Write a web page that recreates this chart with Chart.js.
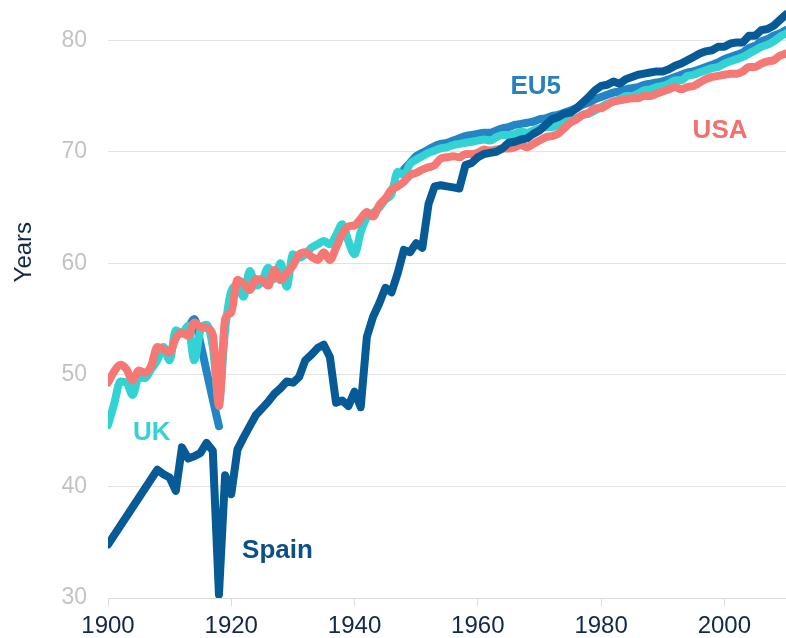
<!DOCTYPE html>
<html>
<head>
<meta charset="utf-8">
<script src="https://cdn.jsdelivr.net/npm/chart.js@4.4.0/dist/chart.umd.min.js"></script>
<style>
  html, body { margin: 0; padding: 0; background: #fff; }
  #wrap { width: 786px; height: 638px; }
</style>
</head>
<body>
<div id="wrap"><canvas id="lifeChart" width="786" height="638"></canvas></div>
<script>
// years on the x axis
const years = [
  1900, 1901, 1902, 1903, 1904, 1905, 1906, 1907, 1908, 1909,
  1910, 1911, 1912, 1913, 1914, 1915, 1916, 1917, 1918, 1919,
  1920, 1921, 1922, 1923, 1924, 1925, 1926, 1927, 1928, 1929,
  1930, 1931, 1932, 1933, 1934, 1935, 1936, 1937, 1938, 1939,
  1940, 1941, 1942, 1943, 1944, 1945, 1946, 1947, 1948, 1949,
  1950, 1951, 1952, 1953, 1954, 1955, 1956, 1957, 1958, 1959,
  1960, 1961, 1962, 1963, 1964, 1965, 1966, 1967, 1968, 1969,
  1970, 1971, 1972, 1973, 1974, 1975, 1976, 1977, 1978, 1979,
  1980, 1981, 1982, 1983, 1984, 1985, 1986, 1987, 1988, 1989,
  1990, 1991, 1992, 1993, 1994, 1995, 1996, 1997, 1998, 1999,
  2000, 2001, 2002, 2003, 2004, 2005, 2006, 2007, 2008, 2009,
  2010
];

// life expectancy at birth, years (null = no data)
const spain = [
  34.8, null, null, null, null, null, null, null, 41.5, 41.1,
  40.8, 39.6, 43.5, 42.5, 42.7, 43.0, 43.9, 43.2, 30.3, 41.0,
  39.3, 43.3, 44.4, 45.4, 46.4, 47.0, 47.6, 48.3, 48.8, 49.4,
  49.3, 49.8, 51.3, 51.8, 52.4, 52.7, 51.6, 47.5, 47.7, 47.2,
  48.5, 47.1, 53.4, 55.2, 56.4, 57.8, 57.4, 59.1, 61.2, 61.0,
  61.8, 61.4, 65.3, 66.9, 67.0, 66.9, 66.8, 66.7, 68.8, 69.0,
  69.5, 69.8, 69.9, 70.0, 70.3, 70.8, 70.9, 71.1, 71.2, 71.6,
  71.9, 72.4, 72.9, 73.1, 73.4, 73.5, 73.9, 74.4, 74.9, 75.5,
  75.9, 76.0, 76.3, 76.1, 76.5, 76.7, 76.9, 77.0, 77.1, 77.2,
  77.2, 77.4, 77.7, 77.9, 78.2, 78.5, 78.8, 79.0, 79.1, 79.4,
  79.4, 79.7, 79.8, 79.8, 80.4, 80.4, 80.9, 81.0, 81.3, 81.8,
  82.3
];

const eu5 = [
  null, null, null, null, null, null, null, null, null, null,
  null, null, null, 54.2, 55.0, 52.8, 50.3, 47.8, 45.4, null,
  null, null, null, null, null, null, null, null, null, null,
  null, null, null, null, null, null, null, null, null, null,
  null, null, null, null, null, null, null, null, 68.4, 69.0,
  69.6, 69.9, 70.2, 70.5, 70.7, 70.8, 71.0, 71.2, 71.4, 71.5,
  71.6, 71.7, 71.7, 71.9, 72.1, 72.2, 72.4, 72.5, 72.6, 72.7,
  72.9, 73.0, 73.2, 73.3, 73.5, 73.7, 73.9, 74.2, 74.4, 74.7,
  74.9, 75.1, 75.3, 75.4, 75.6, 75.7, 75.8, 76.0, 76.1, 76.2,
  76.3, 76.5, 76.7, 76.9, 77.1, 77.2, 77.4, 77.6, 77.8, 78.0,
  78.3, 78.5, 78.7, 78.9, 79.3, 79.5, 79.9, 80.1, 80.4, 80.6,
  80.9
];

const uk = [
  45.5, 47.4, 49.4, 49.3, 48.2, 49.8, 49.7, 50.5, 51.3, 52.5,
  51.3, 54.0, 53.7, 54.4, 51.3, 54.0, 54.5, 52.5, 47.8, 54.0,
  57.5, 58.0, 57.0, 59.3, 58.0, 58.4, 59.6, 58.6, 60.0, 57.9,
  60.8, 60.5, 60.8, 61.4, 61.7, 62.0, 61.7, 62.5, 63.5, 62.0,
  60.8, 62.8, 64.1, 64.5, 65.0, 65.7, 66.2, 68.2, 67.9, 68.9,
  69.3, 69.6, 69.9, 70.1, 70.3, 70.4, 70.6, 70.7, 70.8, 70.9,
  71.0, 71.1, 71.0, 71.3, 71.5, 71.5, 71.6, 71.8, 71.7, 71.9,
  72.1, 72.2, 72.2, 72.4, 72.6, 72.9, 73.0, 73.3, 73.4, 73.7,
  74.0, 74.3, 74.5, 74.7, 75.0, 75.0, 75.2, 75.5, 75.6, 75.8,
  75.9, 76.1, 76.4, 76.4, 76.8, 76.9, 77.1, 77.3, 77.5, 77.6,
  77.9, 78.1, 78.3, 78.5, 78.8, 79.1, 79.4, 79.6, 79.9, 80.3,
  80.6
];

const usa = [
  49.3, 50.3, 50.9, 50.5, 49.5, 50.4, 50.2, 50.8, 52.5, 52.3,
  52.0, 53.3, 53.8, 53.5, 54.7, 54.3, 54.2, 53.6, 47.2, 55.0,
  55.6, 58.5, 58.2, 57.6, 58.6, 58.5, 58.0, 59.4, 58.5, 59.1,
  59.8, 60.8, 61.0, 60.6, 60.3, 61.0, 60.3, 61.4, 62.6, 63.3,
  63.4, 64.0, 64.6, 64.2, 65.2, 65.8, 66.6, 66.9, 67.3, 67.9,
  68.1, 68.4, 68.6, 68.8, 69.4, 69.5, 69.6, 69.5, 69.8, 69.8,
  69.9, 70.2, 70.1, 70.2, 70.3, 70.3, 70.4, 70.6, 70.4, 70.7,
  71.0, 71.3, 71.4, 71.6, 72.1, 72.6, 72.9, 73.3, 73.5, 73.9,
  73.9, 74.2, 74.5, 74.6, 74.7, 74.8, 74.8, 75.0, 75.0, 75.2,
  75.4, 75.6, 75.8, 75.6, 75.8, 75.9, 76.2, 76.5, 76.7, 76.8,
  76.9, 77.0, 77.0, 77.2, 77.6, 77.6, 77.9, 78.1, 78.2, 78.6,
  78.8
];

const colors = {
  spain: '#065a95',
  eu5: '#2384c6',
  uk: '#33d3d4',
  usa: '#f67874'
};

// text labels next to the lines, in data units
const seriesLabels = [
  { text: 'EU5', year: 1969.4, value: 75.8, color: '#2a7fc1' },
  { text: 'USA', year: 1999.3, value: 71.9, color: '#f4706c' },
  { text: 'UK', year: 1907.1, value: 44.8, color: '#36d1d2' },
  { text: 'Spain', year: 1927.5, value: 34.2, color: '#0b4f86' }
];

function toPoints(values) {
  return years.map((yr, i) => ({ x: yr, y: values[i] }));
}

function lineSet(label, values, color, order, spanGaps) {
  return {
    label: label,
    data: toPoints(values),
    borderColor: color,
    backgroundColor: color,
    borderWidth: 8,
    borderCapStyle: 'round',
    borderJoinStyle: 'round',
    pointRadius: 0,
    cubicInterpolationMode: 'monotone',
    spanGaps: spanGaps,
    order: order
  };
}

const labelPlugin = {
  id: 'lineLabels',
  afterDatasetsDraw(chart) {
    const ctx = chart.ctx;
    const xs = chart.scales.x;
    const ys = chart.scales.y;
    ctx.save();
    ctx.font = 'bold 26px "Liberation Sans", Arial, sans-serif';
    ctx.textAlign = 'center';
    ctx.textBaseline = 'middle';
    seriesLabels.forEach(l => {
      ctx.fillStyle = l.color;
      ctx.fillText(l.text, xs.getPixelForValue(l.year), ys.getPixelForValue(l.value));
    });
    // axis title
    ctx.translate(24, ys.getPixelForValue(61));
    ctx.rotate(-Math.PI / 2);
    ctx.font = '24px "Liberation Sans", Arial, sans-serif';
    ctx.fillStyle = '#10294d';
    ctx.fillText('Years', 0, 0);
    ctx.restore();
  }
};

// Spain has no data between 1900 and 1908, so draw it without smoothing
const spainSet = lineSet('Spain', spain, colors.spain, 1, true);
spainSet.cubicInterpolationMode = 'default';
spainSet.tension = 0;

const ctx = document.getElementById('lifeChart').getContext('2d');
new Chart(ctx, {
  type: 'line',
  data: {
    datasets: [
      spainSet,
      lineSet('USA', usa, colors.usa, 2, false),
      lineSet('UK', uk, colors.uk, 3, false),
      lineSet('EU5', eu5, colors.eu5, 4, false)
    ]
  },
  options: {
    responsive: false,
    animation: false,
    layout: { padding: 0 },
    plugins: {
      legend: { display: false },
      tooltip: { enabled: false }
    },
    scales: {
      x: {
        type: 'linear',
        min: 1900,
        max: 2010,
        afterFit: scale => {
          scale.height = 40;
          scale.paddingLeft = 0;
          scale.paddingRight = 0;
        },
        ticks: {
          stepSize: 20,
          includeBounds: false,
          padding: 6,
          color: '#12284a',
          font: { family: '"Liberation Sans", Arial, sans-serif', size: 24 },
          callback: v => String(v)
        },
        grid: {
          drawOnChartArea: false,
          drawTicks: true,
          tickLength: 8,
          color: '#dcdcdc'
        },
        border: { color: '#dcdcdc' }
      },
      y: {
        min: 30,
        max: 83.6,
        afterFit: scale => {
          scale.width = 108;
          scale.paddingTop = 0;
          scale.paddingBottom = 0;
        },
        ticks: {
          stepSize: 10,
          includeBounds: false,
          padding: 21,
          color: '#c3c3c3',
          font: { family: '"Liberation Sans", Arial, sans-serif', size: 23 }
        },
        grid: {
          color: '#e3e3e3',
          drawTicks: false
        },
        border: { display: false }
      }
    }
  },
  plugins: [labelPlugin]
});
</script>
</body>
</html>
